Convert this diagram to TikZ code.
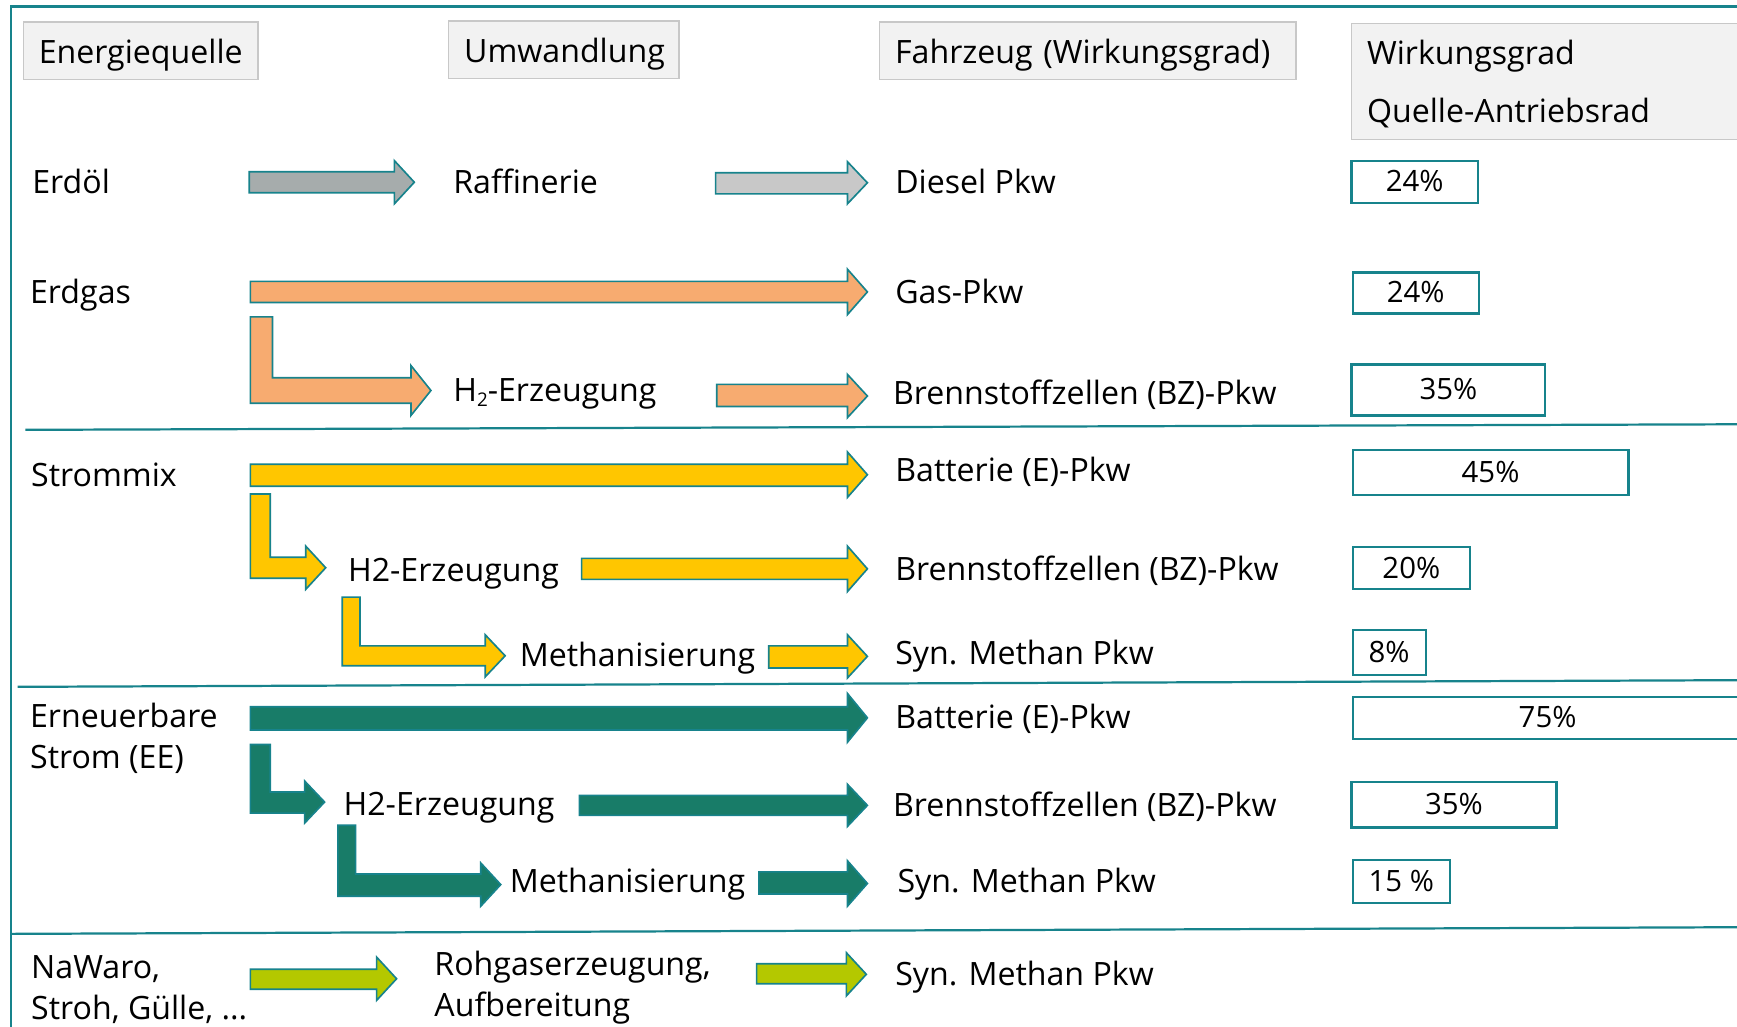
\documentclass[tikz,border=0pt]{standalone}
\usepackage{fontspec}
\setmainfont{Open Sans}
\definecolor{petrol}{RGB}{23,131,140}
\definecolor{hdrfill}{RGB}{242,242,242}
\definecolor{hdrline}{RGB}{200,200,200}
\definecolor{grayA}{RGB}{166,172,172}
\definecolor{grayB}{RGB}{200,200,200}
\definecolor{orng}{RGB}{247,171,112}
\definecolor{yell}{RGB}{255,198,0}
\definecolor{grn}{RGB}{24,124,104}
\definecolor{lime}{RGB}{180,200,0}
\newcommand{\sarr}[7]{\draw[blk,fill=#1] (#2,#4) -- ({#3-18},#4) -- ({#3-18},#6) -- (#3,{(#6+#7)/2}) -- ({#3-18},#7) -- ({#3-18},#5) -- (#2,#5) -- cycle;}
\newcommand{\barr}[9]{\draw[blk,fill=#1] (#2,#4) -- (#3,#4) -- (#3,#5) -- ({#9-18},#5) -- ({#9-18},#7) -- (#9,{(#7+#8)/2}) -- ({#9-18},#8) -- ({#9-18},#6) -- (#2,#6) -- cycle;}
\newcommand{\subtwo}{\raisebox{-0.3ex}{\fontsize{17}{17}\selectfont 2}}
\begin{document}
\begin{tikzpicture}[x=1pt,y=-1pt,
  lbl/.style={anchor=base west, inner sep=0pt, align=left, font=\fontsize{29}{37}\selectfont},
  hdr/.style={draw=hdrline, fill=hdrfill, line width=1.2pt, inner xsep=14pt, inner ysep=0pt, align=left,
     text height=22pt, text depth=0pt, font=\fontsize{29}{52}\selectfont},
  pct/.style={draw=petrol, line width=2pt, fill=white, inner sep=0pt, text height=18pt, text depth=0pt,
     font=\fontsize{26.5}{30}\selectfont},
  blk/.style={draw=petrol, line width=1.5pt, line join=miter},
  sep/.style={draw=petrol, line width=2pt},
  frame/.style={draw=petrol, line width=2.2pt}]
\useasboundingbox (0,0) rectangle (1568,927);

% frame and separators
\draw[frame] (10,927) -- (10,6) -- (1568,6);
\draw[sep] (23,388) -- (1568,383);
\draw[sep] (16,620) -- (1568,614);
\draw[sep] (10,843) -- (1568,837);

% headers
\node[hdr, minimum height=52pt, text width=184pt] (h1) at (127,46) {Energiequelle};
\node[hdr, minimum height=52pt, text width=180pt] (h2) at (509,45) {Umwandlung};
\node[hdr, minimum height=52pt, text width=348pt] (h3) at (982,46) {Fahrzeug (Wirkungsgrad)};
\node[hdr, minimum height=105pt, text width=327pt, text depth=52pt] (h4) at (1397.5,73.5) {Wirkungsgrad\\Quelle-Antriebsrad};

% arrows
\sarr{grayA}{225}{374}{155}{174}{145}{184}
\sarr{grayB}{646}{783}{156}{175}{146}{184}
\sarr{orng}{226}{783}{254}{273}{243}{284}
\barr{orng}{226}{246}{286}{341}{364}{330}{375}{389}
\sarr{orng}{647}{783}{347}{367}{338}{377}
\sarr{yell}{226}{783}{419}{439}{408}{449}
\barr{yell}{226}{244}{446}{503}{522}{493}{532}{294}
\sarr{yell}{525}{783}{504}{523}{493}{534}
\barr{yell}{309}{325}{539}{583}{601}{573}{611}{456}
\sarr{yell}{694}{783}{583}{603}{573}{612}
\sarr{grn}{226}{783}{638}{659}{626}{670}
\barr{grn}{226}{244}{672}{715}{734}{705}{743}{293}
\sarr{grn}{523}{783}{718}{736}{708}{746}
\barr{grn}{305}{321}{745}{789}{809}{779}{818}{452}
\sarr{grn}{685}{783}{787}{807}{777}{818}
\sarr{lime}{226}{358}{875}{893}{864}{903}
\sarr{lime}{683}{782}{870}{888}{860}{899}

% source labels
\node[lbl] (erdoel) at (29,175) {Erdöl};
\node[lbl] (erdgas) at (27,274) {Erdgas};
\node[lbl] (strommix) at (28,439) {Strommix};
\node[lbl] (ee) at (27,694) {Erneuerbare\\Strom (EE)};
\node[lbl] (nawaro) at (28,920) {NaWaro,\\Stroh, Gülle, ...};

% conversion labels
\node[lbl] (raff) at (409,175) {Raffinerie};
\node[lbl] (h2a) at (409,362) {H\subtwo-Erzeugung};
\node[lbl] (h2b) at (314,525) {H2-Erzeugung};
\node[lbl] (meth1) at (469,602) {Methanisierung};
\node[lbl] (h2c) at (310,736) {H2-Erzeugung};
\node[lbl] (meth2) at (460,806) {Methanisierung};
\node[lbl] (rohgas) at (392,918) {Rohgaserzeugung,\\Aufbereitung};

% vehicle labels
\node[lbl] (v1) at (808,175) {Diesel Pkw};
\node[lbl] (v2) at (808,274) {Gas-Pkw};
\node[lbl] (v3) at (806,365) {Brennstoffzellen (BZ)-Pkw};
\node[lbl] (v4) at (808,435) {Batterie (E)-Pkw};
\node[lbl] (v5) at (808,524) {Brennstoffzellen (BZ)-Pkw};
\node[lbl] (v6) at (808,600) {Syn. Methan Pkw};
\node[lbl] (v7) at (808,658) {Batterie (E)-Pkw};
\node[lbl] (v8) at (806,737) {Brennstoffzellen (BZ)-Pkw};
\node[lbl] (v9) at (810,806) {Syn. Methan Pkw};
\node[lbl] (v10) at (808,890) {Syn. Methan Pkw};

% efficiency boxes
\node[pct, minimum width=114pt, minimum height=38pt] (p1) at (1277,164) {24\%};
\node[pct, minimum width=114pt, minimum height=37pt] (p2) at (1278,264.5) {24\%};
\node[pct, minimum width=175pt, minimum height=46pt] (p3) at (1307.5,352) {35\%};
\node[pct, minimum width=249pt, minimum height=41pt] (p4) at (1345.5,426.5) {45\%};
\node[pct, minimum width=106pt, minimum height=38pt] (p5) at (1274,513) {20\%};
\node[pct, minimum width=66pt, minimum height=40pt] (p6) at (1254,589) {8\%};
\node[pct, minimum width=352pt, minimum height=38pt] (p7) at (1397,648) {75\%};
\node[pct, minimum width=185pt, minimum height=41pt] (p8) at (1312.5,726.5) {35\%};
\node[pct, minimum width=88pt, minimum height=39pt] (p9) at (1265,795.5) {15 \%};
\end{tikzpicture}
\end{document}
